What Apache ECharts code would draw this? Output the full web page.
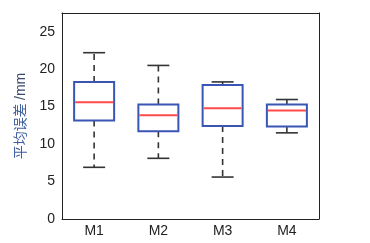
<!DOCTYPE html>
<html><head><meta charset="utf-8">
<script src="https://cdn.jsdelivr.net/npm/echarts@6/dist/echarts.min.js"></script>
<style>html,body{margin:0;padding:0;background:#fff}#c{width:370px;height:243px}</style>
</head><body><div id="c"></div>
<script>
const categories = ['M1', 'M2', 'M3', 'M4'];
const mins    = [6.9, 8.1, 5.6, 11.5];
const q1s     = [13.15, 11.7, 12.4, 12.35];
const medians = [15.6, 13.85, 14.8, 14.5];
const q3s     = [18.3, 15.3, 17.9, 15.3];
const maxs    = [22.2, 20.5, 18.3, 15.95];
const yTicks  = [0, 5, 10, 15, 20, 25];

const data = categories.map((c, i) => [i, mins[i], q1s[i], medians[i], q3s[i], maxs[i]]);
const font = 'Liberation Sans, "Noto Sans CJK SC", sans-serif';

const chart = echarts.init(document.getElementById('c'));
chart.setOption({
  animation: false,
  grid: { left: 62, right: 51, top: 13, bottom: 24 },
  xAxis: [
    { type: 'category', data: categories, position: 'bottom',
      axisLine: { onZero: false, lineStyle: { color: '#222', width: 1 } },
      axisTick: { inside: true, length: 3, alignWithLabel: true, lineStyle: { color: '#222' } },
      axisLabel: { color: '#222', fontSize: 14, fontFamily: font, margin: 5 },
      splitLine: { show: false } },
    { type: 'category', data: categories, position: 'top',
      axisLine: { onZero: false, lineStyle: { color: '#222', width: 1 } },
      axisTick: { inside: true, length: 3, alignWithLabel: true, lineStyle: { color: '#222' } },
      axisLabel: { show: false } }
  ],
  yAxis: [
    { type: 'value', min: 0, max: 27.5, interval: 5, position: 'left',
      name: '{a|平均误差} {b|/mm}', nameLocation: 'middle', nameGap: 34, nameRotate: 90,
      nameTextStyle: { rich: {
        a: { color: '#3f5f9f', fontSize: 14, fontFamily: font },
        b: { color: '#3a4a6a', fontSize: 14, fontFamily: font } } },
      axisLine: { show: true, onZero: false, lineStyle: { color: '#222', width: 1 } },
      axisTick: { inside: true, length: 3, lineStyle: { color: '#222' } },
      axisLabel: { color: '#222', fontSize: 14, fontFamily: font, margin: 7, showMaxLabel: false,
        formatter: v => yTicks.includes(v) ? String(v) : '' },
      splitLine: { show: false } },
    { type: 'value', min: 0, max: 27.5, interval: 5, position: 'right',
      axisLine: { show: true, onZero: false, lineStyle: { color: '#222', width: 1 } },
      axisTick: { inside: true, length: 3, lineStyle: { color: '#222' } },
      axisLabel: { show: false }, splitLine: { show: false } }
  ],
  series: [{
    type: 'custom',
    data: data,
    encode: { x: 0, y: [1, 2, 3, 4, 5] },
    renderItem: function (params, api) {
      const i = api.value(0);
      const x = api.coord([i, 0])[0];
      const y = v => api.coord([i, v])[1];
      const yMin = y(api.value(1)), yQ1 = y(api.value(2)), yMed = y(api.value(3)),
            yQ3 = y(api.value(4)), yMax = y(api.value(5));
      const bw = 20, cw = 11;
      const wStyle = { stroke: '#333', lineWidth: 1.6, lineDash: [6, 5] };
      const cStyle = { stroke: '#333', lineWidth: 1.6 };
      return { type: 'group', children: [
        { type: 'line', shape: { x1: x, y1: yQ3, x2: x, y2: yMax }, style: wStyle },
        { type: 'line', shape: { x1: x, y1: yQ1, x2: x, y2: yMin }, style: wStyle },
        { type: 'line', shape: { x1: x - cw, y1: yMax, x2: x + cw, y2: yMax }, style: cStyle },
        { type: 'line', shape: { x1: x - cw, y1: yMin, x2: x + cw, y2: yMin }, style: cStyle },
        { type: 'rect', shape: { x: x - bw, y: yQ3, width: 2 * bw, height: yQ1 - yQ3 },
          style: { fill: '#fff', stroke: '#3a56b4', lineWidth: 2 } },
        { type: 'line', shape: { x1: x - bw + 1, y1: yMed, x2: x + bw - 1, y2: yMed },
          style: { stroke: '#ff4a4a', lineWidth: 2 } }
      ]};
    }
  }]
});
</script></body></html>
